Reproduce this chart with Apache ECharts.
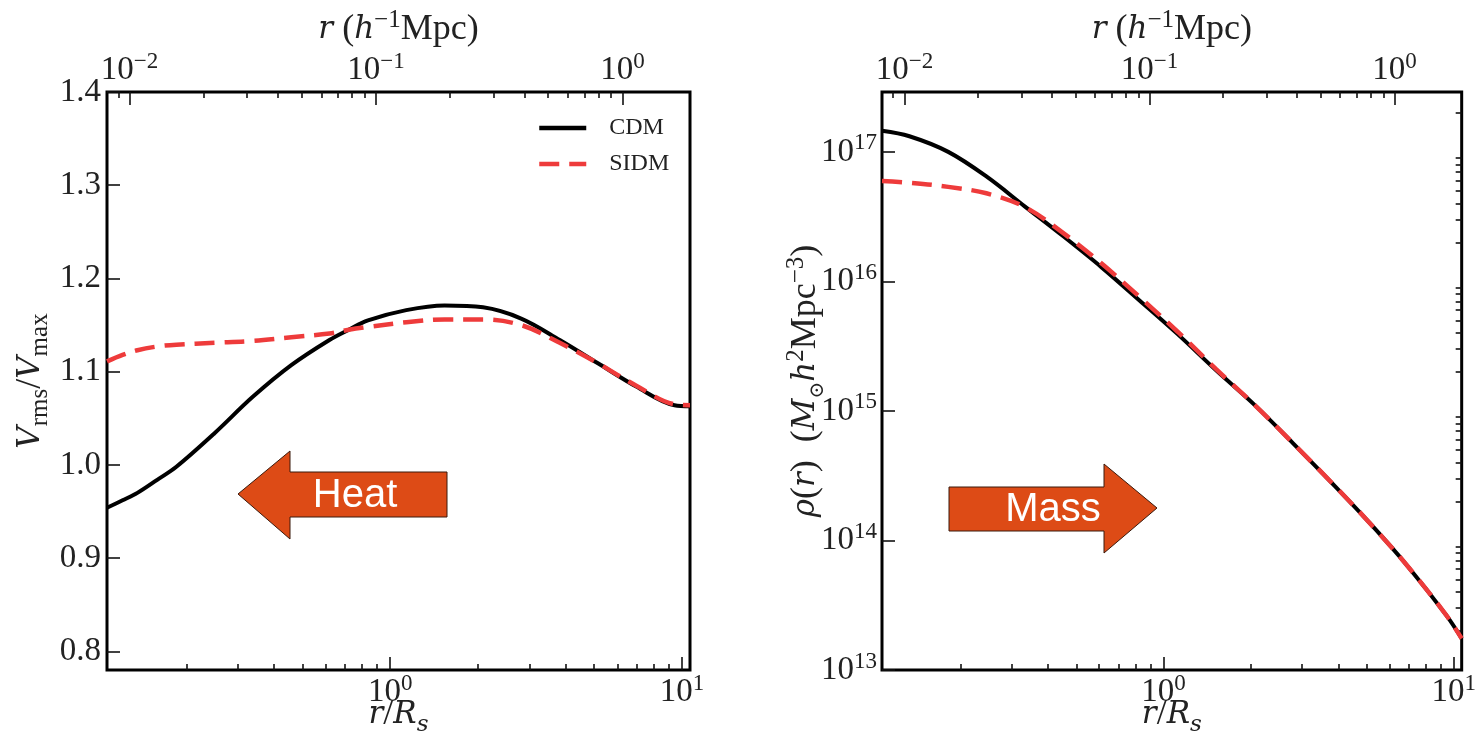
<!DOCTYPE html>
<html><head><meta charset="utf-8">
<script src="https://cdn.jsdelivr.net/npm/echarts@6/dist/echarts.min.js"></script>
<style>html,body{margin:0;padding:0;background:#fff}#c{width:1479px;height:745px}</style>
</head><body><div id="c"></div>
<script>
// ---- data ----
const velRadius = [0.107, 0.121, 0.136, 0.159, 0.185, 0.25, 0.338, 0.458, 0.619, 0.721, 0.839, 1.135, 1.535, 2.08, 2.81, 3.81, 5.15, 6.97, 9.42, 10.65];
const velCDM  = [0.954, 0.962, 0.970, 0.984, 0.998, 1.034, 1.073, 1.107, 1.134, 1.145, 1.155, 1.166, 1.171, 1.169, 1.157, 1.134, 1.109, 1.084, 1.064, 1.063];
const velSIDM = [1.111, 1.118, 1.123, 1.127, 1.129, 1.131, 1.133, 1.137, 1.141, 1.145, 1.148, 1.153, 1.156, 1.156, 1.150, 1.131, 1.109, 1.085, 1.065, 1.064];

const denRadius = [0.107, 0.133, 0.181, 0.245, 0.332, 0.45, 0.61, 0.826, 1.12, 1.52, 2.07, 2.8, 3.79, 5.14, 6.95, 9.42, 10.65];
const denCDM  = [1.455e17, 1.32e17, 1.0e17, 6.46e16, 3.8e16, 2.24e16, 1.29e16, 7.13e15, 3.9e15, 2.05e15, 1.1e15, 5.6e14, 2.8e14, 1.36e14, 6.3e13, 2.65e13, 1.75e13];
const denSIDM = [5.96e16, 5.78e16, 5.37e16, 4.79e16, 3.76e16, 2.37e16, 1.38e16, 7.6e15, 4.07e15, 2.09e15, 1.1e15, 5.6e14, 2.8e14, 1.36e14, 6.3e13, 2.65e13, 1.75e13];

// ---- tick labels / tick positions ----
const velTicks = [0.8, 0.9, 1.0, 1.1, 1.2, 1.3, 1.4];
const bottomMajor = [1, 10];
const bottomMinor = [0.2, 0.3, 0.4, 0.5, 0.6, 0.7, 0.8, 0.9, 2, 3, 4, 5, 6, 7, 8, 9];
const topMajor = [0.01, 0.1, 1];
const topMinor = [0.009, 0.02, 0.03, 0.04, 0.05, 0.06, 0.07, 0.08, 0.09, 0.2, 0.3, 0.4, 0.5, 0.6, 0.7, 0.8, 0.9];
const denMajor = [1e13, 1e14, 1e15, 1e16, 1e17];
const denMinor = [2e13,3e13,4e13,5e13,6e13,7e13,8e13,9e13, 2e14,3e14,4e14,5e14,6e14,7e14,8e14,9e14,
                  2e15,3e15,4e15,5e15,6e15,7e15,8e15,9e15, 2e16,3e16,4e16,5e16,6e16,7e16,8e16,9e16, 2e17];
const seriesNames = ['CDM', 'SIDM'];

// ---- axis ranges ----
const X_MIN = 0.107, X_MAX = 10.65;
const T_MIN = 0.0081, T_MAX = 1.88;
const V_MIN = 0.78, V_MAX = 1.4;
const D_MIN = 1e13, D_MAX = 2.9e17;

const SERIF = "'Liberation Serif','DejaVu Serif',serif";
const ISERIF = "'DejaVu Serif','Liberation Serif',serif";
const TXT = '#222';
// tick label rich styles
const RICH = {
  n:   {fontFamily: SERIF, fontSize: 33, lineHeight: 40, color: TXT},
  sup: {fontFamily: SERIF, fontSize: 23, lineHeight: 20, color: TXT, verticalAlign: 'top'}
};
// axis title rich styles
const NRICH = {
  n:   {fontFamily: SERIF, fontSize: 36, lineHeight: 44, color: TXT},
  i:   {fontFamily: ISERIF, fontSize: 31, lineHeight: 44, color: TXT, fontStyle: 'italic'},
  sup: {fontFamily: SERIF, fontSize: 25, lineHeight: 22, color: TXT, verticalAlign: 'top'},
  sub: {fontFamily: SERIF, fontSize: 25, lineHeight: 22, color: TXT, verticalAlign: 'bottom'},
  subd:{fontFamily: ISERIF, fontSize: 20, lineHeight: 20, color: TXT, verticalAlign: 'bottom'},
  subi:{fontFamily: ISERIF, fontSize: 23, lineHeight: 22, color: TXT, verticalAlign: 'bottom', fontStyle: 'italic'}
};
function powLabel(v) {
  const e = Math.round(Math.log10(v));
  return '{n|10}{sup|' + (e < 0 ? '\u2212' + (-e) : e) + '}';
}
const TICK = {color: '#111', width: 1.6};

function logX(gridIndex, pos, min, max, major, minor, name, nameGap) {
  return [
    {type: 'log', gridIndex, position: pos, min, max, logBase: 10,
     axisLine: {show: false}, splitLine: {show: false},
     axisTick: {inside: true, length: 13, lineStyle: TICK, customValues: major},
     axisLabel: {customValues: major, formatter: powLabel, rich: RICH, margin: 2},
     name, nameLocation: 'middle', nameGap, nameMoveOverlap: false,
     nameTextStyle: {rich: NRICH}},
    {type: 'log', gridIndex, position: pos, min, max, logBase: 10,
     axisLine: {show: false}, splitLine: {show: false},
     axisTick: {inside: true, length: 6, lineStyle: TICK, customValues: minor},
     axisLabel: {show: false}}
  ];
}
const nameBottom = '{i|r}{n|/}{i|R}{subi|s}';
const nameTop = '{i|r}{n| (}{i|h}{sup|\u22121}{n|Mpc)}';

const xAxes = [].concat(
  logX(0, 'bottom', X_MIN, X_MAX, bottomMajor, bottomMinor, nameBottom, 23),
  logX(0, 'top', T_MIN, T_MAX, topMajor, topMinor, nameTop, 40),
  logX(1, 'bottom', X_MIN, X_MAX, bottomMajor, bottomMinor, nameBottom, 23),
  logX(1, 'top', T_MIN, T_MAX, topMajor, topMinor, nameTop, 40)
);

const yAxes = [
  {type: 'value', gridIndex: 0, min: V_MIN, max: V_MAX,
   axisLine: {show: false}, splitLine: {show: false},
   axisTick: {inside: true, length: 13, lineStyle: TICK, customValues: velTicks},
   axisLabel: {customValues: velTicks, formatter: v => v.toFixed(1), margin: 6,
               fontFamily: SERIF, fontSize: 33, color: TXT},
   name: '{i|V}{sub|rms}{n|/}{i|V}{sub|max}', nameLocation: 'middle', nameGap: 54, nameRotate: 90,
   nameMoveOverlap: false, nameTextStyle: {rich: NRICH}},
  {type: 'log', gridIndex: 1, min: D_MIN, max: D_MAX, logBase: 10,
   axisLine: {show: false}, splitLine: {show: false},
   axisTick: {inside: true, length: 13, lineStyle: TICK, customValues: denMajor},
   axisLabel: {customValues: denMajor, formatter: powLabel, rich: RICH, margin: 5},
   name: '{i|\u03c1}{n|(}{i|r}{n|)  (}{i|M}{subd|\u2299}{i|h}{sup|2}{n|Mpc}{sup|\u22123}{n|)}',
   nameLocation: 'middle', nameGap: 54, nameRotate: 90, nameMoveOverlap: false,
   nameTextStyle: {rich: NRICH}},
  {type: 'log', gridIndex: 1, min: D_MIN, max: D_MAX, logBase: 10,
   axisLine: {show: false}, splitLine: {show: false},
   axisTick: {inside: true, length: 6, lineStyle: TICK, customValues: denMinor},
   axisLabel: {show: false}}
];

function pairs(xs, ys) { return xs.map((x, k) => [x, ys[k]]); }
const RED = '#ee3b3b';
const CDM_STYLE = {color: '#000', width: 4};
const SIDM_STYLE = {color: RED, width: 4.5, type: [20, 10]};

const series = [
  {name: seriesNames[0], type: 'line', xAxisIndex: 0, yAxisIndex: 0, data: pairs(velRadius, velCDM),
   symbol: 'none', smooth: 0.35, lineStyle: CDM_STYLE, itemStyle: {color: '#000'}, z: 3},
  {name: seriesNames[1], type: 'line', xAxisIndex: 0, yAxisIndex: 0, data: pairs(velRadius, velSIDM),
   symbol: 'none', smooth: 0.35, lineStyle: SIDM_STYLE, itemStyle: {color: RED}, z: 4},
  {name: seriesNames[0], type: 'line', xAxisIndex: 4, yAxisIndex: 1, data: pairs(denRadius, denCDM),
   symbol: 'none', smooth: 0.35, lineStyle: CDM_STYLE, itemStyle: {color: '#000'}, z: 3},
  {name: seriesNames[1], type: 'line', xAxisIndex: 4, yAxisIndex: 1, data: pairs(denRadius, denSIDM),
   symbol: 'none', smooth: 0.35, lineStyle: SIDM_STYLE, itemStyle: {color: RED}, z: 4}
];

const ARROW = '#dd4b16';
const option = {
  backgroundColor: '#fff',
  animation: false,
  grid: [
    {left: 107, top: 92, width: 583, height: 578, show: true, borderColor: '#000', borderWidth: 3},
    {left: 882, top: 92, width: 590, height: 578, show: true, borderColor: '#000', borderWidth: 3}
  ],
  xAxis: xAxes,
  yAxis: yAxes,
  legend: {
    data: seriesNames, left: 532, top: 111, orient: 'vertical', selectedMode: false,
    itemWidth: 47, itemHeight: 22, itemGap: 12,
    itemStyle: {opacity: 0, borderWidth: 0},
    lineStyle: {width: 4.5},
    textStyle: {fontFamily: SERIF, fontSize: 24, color: TXT, lineHeight: 22, padding: [0, 0, 0, 18]}
  },
  series,
  graphic: [
    {type: 'polygon', z: 10,
     shape: {points: [[238, 494], [290, 451], [290, 472], [447, 472], [447, 517], [290, 517], [290, 539]]},
     style: {fill: ARROW, stroke: '#3b1a0c', lineWidth: 1}},
    {type: 'text', z: 11, x: 355, y: 496,
     style: {text: 'Heat', fill: '#fff', font: "40px 'Liberation Sans', Arial, sans-serif",
             textAlign: 'center', textVerticalAlign: 'middle', align: 'center', verticalAlign: 'middle'}},
    {type: 'polygon', z: 10,
     shape: {points: [[949, 487], [1104, 487], [1104, 464], [1157, 508], [1104, 553], [1104, 531], [949, 531]]},
     style: {fill: ARROW, stroke: '#3b1a0c', lineWidth: 1}},
    {type: 'text', z: 11, x: 1053, y: 510,
     style: {text: 'Mass', fill: '#fff', font: "40px 'Liberation Sans', Arial, sans-serif",
             textAlign: 'center', textVerticalAlign: 'middle', align: 'center', verticalAlign: 'middle'}}
  ]
};
const chart = echarts.init(document.getElementById('c'), null, {renderer: 'canvas'});
chart.setOption(option);
</script>
</body></html>
